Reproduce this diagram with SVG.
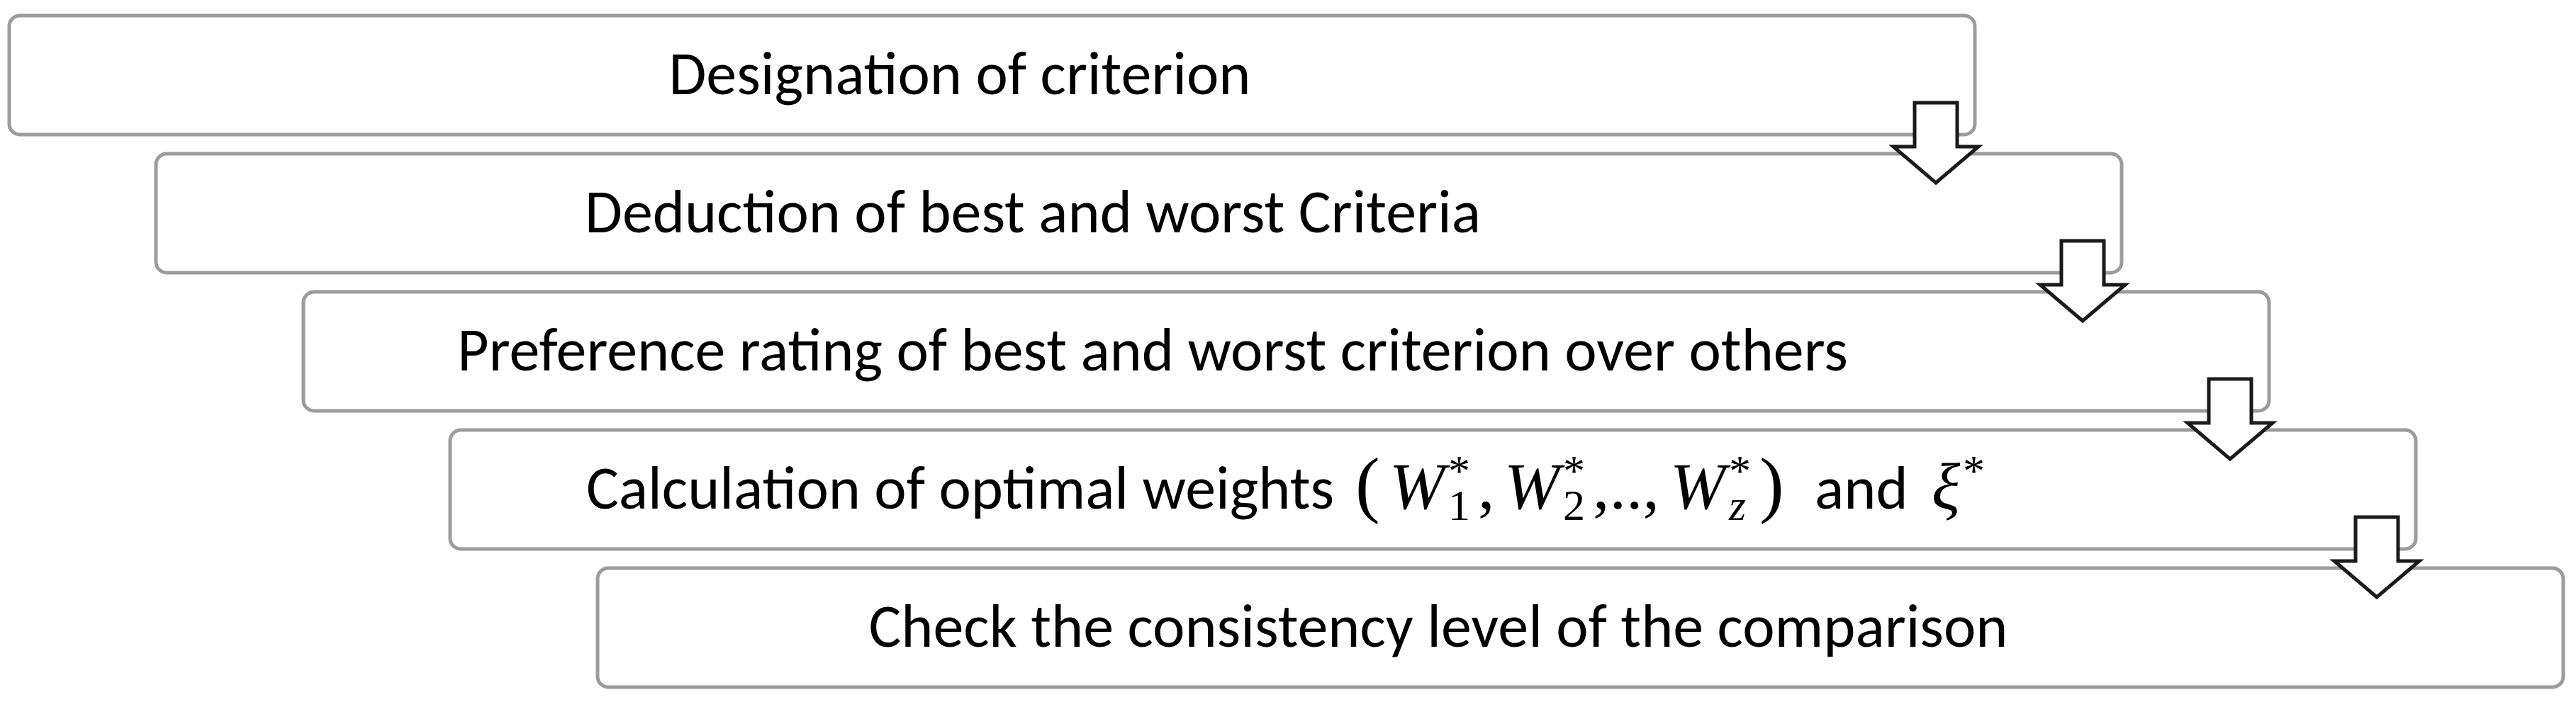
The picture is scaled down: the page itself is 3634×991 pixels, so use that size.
<svg xmlns="http://www.w3.org/2000/svg" width="3634" height="991" viewBox="0 0 3634 991">
<style>
.box{fill:#ffffff;stroke:#9c9c9c;stroke-width:5}
.arr{fill:#ffffff;stroke:#1a1a1a;stroke-width:5;stroke-linejoin:miter}
.t{font-family:Carlito,Lato,"Liberation Sans",sans-serif;font-size:86px;fill:#000}
.m{font-family:"Liberation Serif",serif;font-size:94px;fill:#000}
.mi{font-style:italic}
.p{font-size:104px}
.s{font-size:62px}
.a{font-family:Carlito,Lato,"Liberation Sans",sans-serif;font-size:86px;font-style:normal}
</style>
<rect width="3634" height="991" fill="#ffffff"/>
<g id="node1">
<rect class="box" x="13" y="22" width="2773" height="168" rx="15"/>
<text class="t" x="1354" y="133" text-anchor="middle">Designation of criterion</text>
</g>
<g id="node2">
<rect class="box" x="220" y="217" width="2773" height="168" rx="15"/>
<text class="t" x="1457" y="328" text-anchor="middle">Deduction of best and worst Criteria</text>
</g>
<g id="node3">
<rect class="box" x="428" y="412" width="2773" height="168" rx="15"/>
<text class="t" x="1626" y="523" text-anchor="middle">Preference rating of best and worst criterion over others</text>
</g>
<g id="node4">
<rect class="box" x="635" y="607" width="2773" height="168" rx="15"/>
<text class="t" x="827" y="718">Calculation of optimal weights</text>
<text class="m" y="718"><tspan class="p" x="1912">(</tspan><tspan class="mi" x="1960">W</tspan><tspan class="s" x="2043" dy="16">1</tspan><tspan class="s" x="2043" dy="-49">*</tspan><tspan x="2085" dy="33">,</tspan><tspan class="mi" x="2122">W</tspan><tspan class="s" x="2205" dy="16">2</tspan><tspan class="s" x="2205" dy="-49">*</tspan><tspan x="2247" dy="33">,..,</tspan><tspan class="mi" x="2356">W</tspan><tspan class="s mi" x="2439" dy="16">z</tspan><tspan class="s" x="2439" dy="-49">*</tspan><tspan class="p" x="2482" dy="33">)</tspan><tspan class="a" x="2560">and</tspan><tspan class="mi" x="2725">ξ</tspan><tspan class="s" x="2769" dy="-33">*</tspan></text>
</g>
<g id="node5">
<rect class="box" x="843" y="802" width="2773" height="168" rx="15"/>
<text class="t" x="2029" y="913" text-anchor="middle">Check the consistency level of the comparison</text>
</g>
<g id="connectors">
<path class="arr" d="M2701,145 H2761 V207 H2791 L2731,258 L2671,207 H2701 Z"/>
<path class="arr" d="M2908,340 H2968 V402 H2998 L2938,453 L2878,402 H2908 Z"/>
<path class="arr" d="M3116,535 H3176 V597 H3206 L3146,648 L3086,597 H3116 Z"/>
<path class="arr" d="M3323,730 H3383 V792 H3413 L3353,843 L3293,792 H3323 Z"/>
</g>
</svg>
